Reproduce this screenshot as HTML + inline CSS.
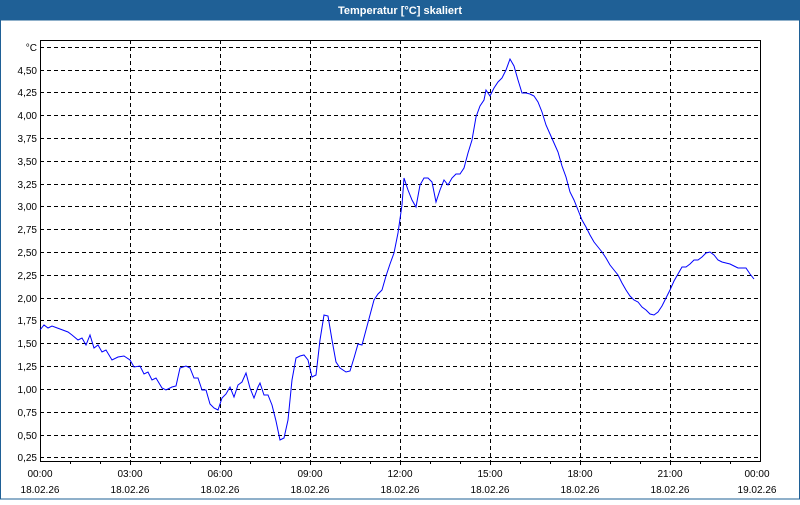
<!DOCTYPE html>
<html><head><meta charset="utf-8"><style>
body{margin:0;width:800px;height:500px;overflow:hidden;background:#fff;font-family:"Liberation Sans",sans-serif}
</style></head><body>
<svg width="800" height="500" xmlns="http://www.w3.org/2000/svg" font-family="Liberation Sans, sans-serif" font-size="10">
<rect x="0" y="0" width="800" height="500" fill="#fff"/>
<rect x="0" y="0" width="800" height="20" fill="#1f6096"/>
<rect x="0.5" y="20" width="799" height="479" fill="none" stroke="#1f6096"/>
<text x="400" y="14" text-anchor="middle" fill="#fff" font-weight="bold" font-size="11">Temperatur [°C] skaliert</text>
<g stroke="#000" stroke-dasharray="4,3" stroke-width="1">
<line x1="40" x2="760" y1="47.5" y2="47.5"/><line x1="40" x2="760" y1="70.5" y2="70.5"/><line x1="40" x2="760" y1="92.5" y2="92.5"/><line x1="40" x2="760" y1="115.5" y2="115.5"/><line x1="40" x2="760" y1="138.5" y2="138.5"/><line x1="40" x2="760" y1="161.5" y2="161.5"/><line x1="40" x2="760" y1="184.5" y2="184.5"/><line x1="40" x2="760" y1="206.5" y2="206.5"/><line x1="40" x2="760" y1="229.5" y2="229.5"/><line x1="40" x2="760" y1="252.5" y2="252.5"/><line x1="40" x2="760" y1="275.5" y2="275.5"/><line x1="40" x2="760" y1="298.5" y2="298.5"/><line x1="40" x2="760" y1="320.5" y2="320.5"/><line x1="40" x2="760" y1="343.5" y2="343.5"/><line x1="40" x2="760" y1="366.5" y2="366.5"/><line x1="40" x2="760" y1="389.5" y2="389.5"/><line x1="40" x2="760" y1="412.5" y2="412.5"/><line x1="40" x2="760" y1="435.5" y2="435.5"/><line x1="40" x2="760" y1="457.5" y2="457.5"/>
<line x1="130.5" x2="130.5" y1="40" y2="461"/><line x1="220.5" x2="220.5" y1="40" y2="461"/><line x1="310.5" x2="310.5" y1="40" y2="461"/><line x1="400.5" x2="400.5" y1="40" y2="461"/><line x1="490.5" x2="490.5" y1="40" y2="461"/><line x1="580.5" x2="580.5" y1="40" y2="461"/><line x1="670.5" x2="670.5" y1="40" y2="461"/>
</g>
<g stroke="#000" fill="none">
<path d="M40.5 40.5H760.5V461.5H40.5Z"/>
<path d="M70.5 461v3M100.5 461v3M130.5 461v4M160.5 461v3M190.5 461v3M220.5 461v4M250.5 461v3M280.5 461v3M310.5 461v4M340.5 461v3M370.5 461v3M400.5 461v4M430.5 461v3M460.5 461v3M490.5 461v4M520.5 461v3M550.5 461v3M580.5 461v4M610.5 461v3M640.5 461v3M670.5 461v4M700.5 461v3M730.5 461v3"/>
</g>
<g text-anchor="end" fill="#000">
<text x="37" y="51">°C</text><text x="37" y="74">4,50</text><text x="37" y="96">4,25</text><text x="37" y="119">4,00</text><text x="37" y="142">3,75</text><text x="37" y="165">3,50</text><text x="37" y="188">3,25</text><text x="37" y="210">3,00</text><text x="37" y="233">2,75</text><text x="37" y="256">2,50</text><text x="37" y="279">2,25</text><text x="37" y="302">2,00</text><text x="37" y="324">1,75</text><text x="37" y="347">1,50</text><text x="37" y="370">1,25</text><text x="37" y="393">1,00</text><text x="37" y="416">0,75</text><text x="37" y="439">0,50</text><text x="37" y="461">0,25</text>
</g>
<g text-anchor="middle" fill="#000">
<text x="40" y="477">00:00</text><text x="40" y="493">18.02.26</text>
<text x="130" y="477">03:00</text><text x="130" y="493">18.02.26</text>
<text x="220" y="477">06:00</text><text x="220" y="493">18.02.26</text>
<text x="310" y="477">09:00</text><text x="310" y="493">18.02.26</text>
<text x="400" y="477">12:00</text><text x="400" y="493">18.02.26</text>
<text x="490" y="477">15:00</text><text x="490" y="493">18.02.26</text>
<text x="580" y="477">18:00</text><text x="580" y="493">18.02.26</text>
<text x="670" y="477">21:00</text><text x="670" y="493">18.02.26</text>
<text x="757" y="477">00:00</text><text x="757" y="493">19.02.26</text>
</g>
<polyline fill="none" stroke="#0000ff" stroke-width="1" points="40,330 44,325 48,328 52,326 60,329 68,332 72,335 78,340 82,338 86,345 90,335 94,348 98,345 102,352 106,350 112,360 118,357 124,356 130,360 134,367 140,366 144,374 148,372 152,380 156,378 162,388 166,390 172,387 176,386 180,368 186,366 190,368 194,378 198,378 202,390 206,390 210,404 214,408 218,410 222,398 226,394 230,387 234,397 238,385 242,382 246,373 250,388 254,398 258,387 260,383 264,395 268,395 272,405 276,421 280,440 284,438 288,420 292,380 296,358 300,356 304,355 308,360 312,377 316,375 320,340 324,315 328,316 332,340 336,362 340,368 346,372 350,371 354,358 358,344 362,345 366,330 370,315 374,300 378,294 382,290 386,276 390,264 394,253 398,233 402,205 404,178 408,190 412,200 416,207 420,185 424,178 428,178 432,182 436,202 440,190 444,180 448,185 452,178 456,174 460,174 464,168 468,153 472,140 476,117 480,106 484,100 486,90 490,96 494,88 498,82 502,78 506,70 510,59 514,66 518,80 522,93 526,93 530,94 534,96 538,102 542,112 546,125 550,134 554,143 558,152 562,166 566,177 570,192 574,200 578,210 582,220 586,227 590,235 594,242 598,247 602,252 606,258 610,265 614,270 618,275 622,283 626,290 630,296 634,300 638,302 642,307 646,310 650,314 654,315 658,312 662,306 666,298 670,290 674,281 678,274 682,267 686,267 690,264 694,260 698,260 702,257 706,253 710,252 714,255 718,260 722,262 726,263 730,264 734,266 738,268 742,268 746,268 750,274 754,279"/>
</svg>
</body></html>
